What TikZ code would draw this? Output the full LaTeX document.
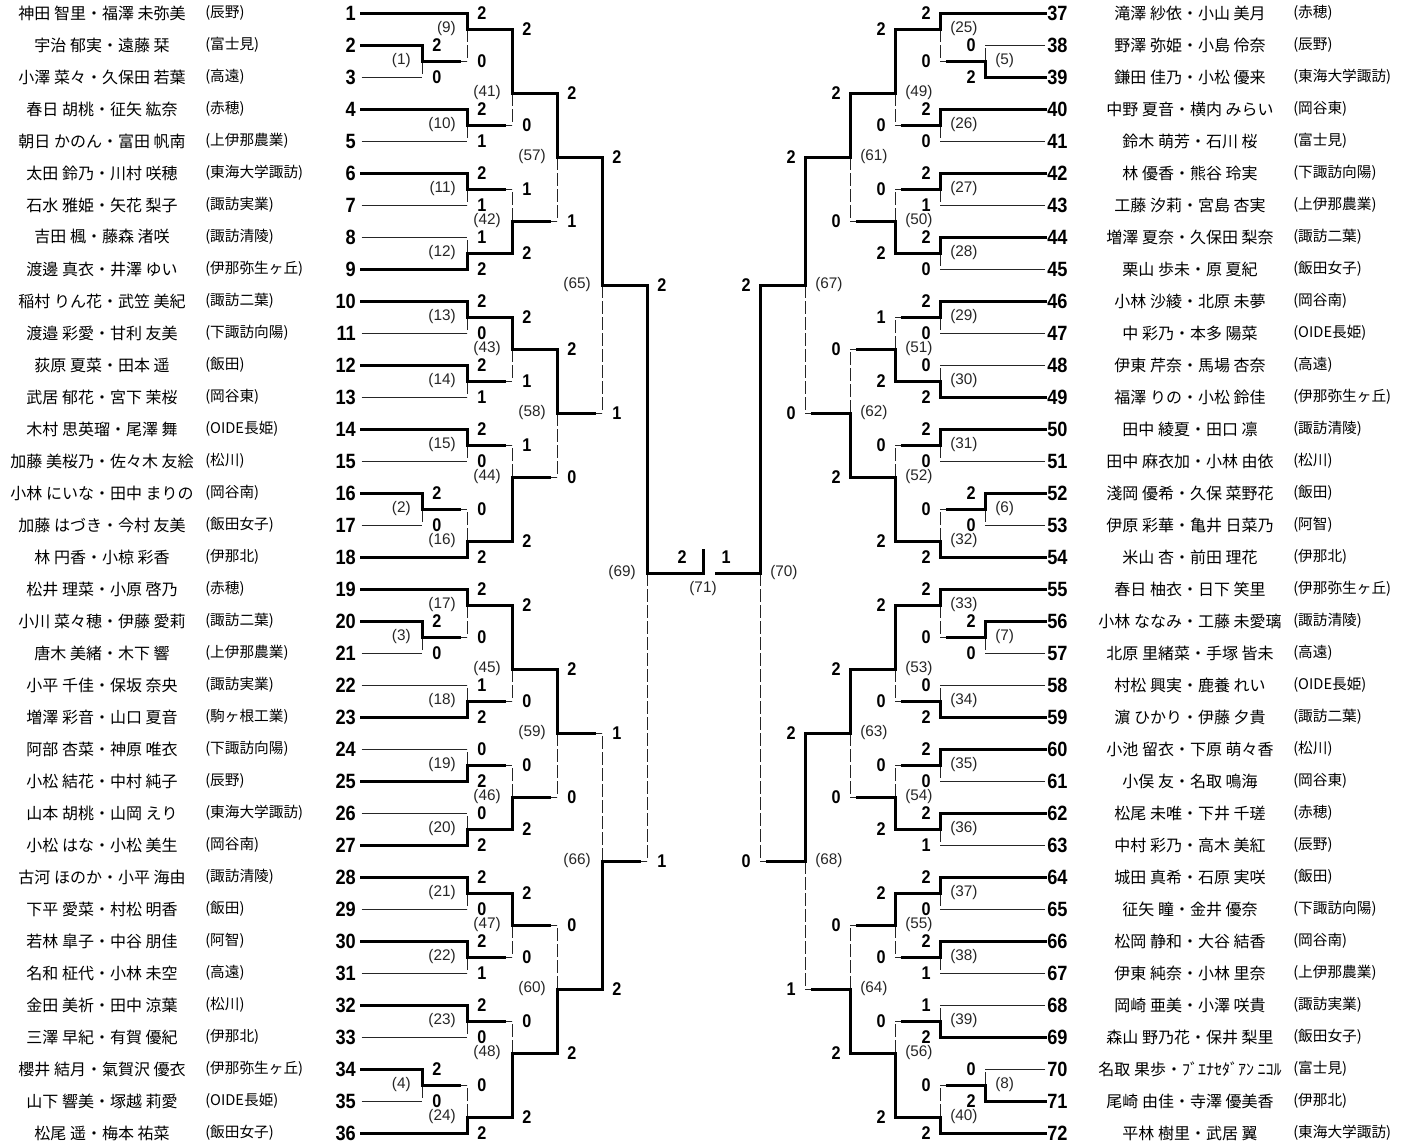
\documentclass[tikz,border=0pt]{standalone}
\usepackage{fontspec}
\newfontfamily\jp{Noto Sans CJK JP}
\newfontfamily\numf[FakeStretch=0.88]{Liberation Sans}
\newfontfamily\lblf{Liberation Sans}
\tikzset{
  thk/.style={line width=2.25pt, line cap=rect, black},
  thn/.style={line width=0.75pt, black!85},
  dsh/.style={line width=0.75pt, black!85, dash pattern=on 9.75pt off 2.25pt},
  nm/.style={font=\jp\fontsize{12}{12}\selectfont, inner sep=0pt},
  sch/.style={font=\jp\fontsize{11}{11}\selectfont, inner sep=0pt, anchor=west},
  pnum/.style={font=\numf\bfseries\fontsize{15.5}{16}\selectfont, inner sep=0pt},
  scr/.style={font=\numf\bfseries\fontsize{13.8}{14}\selectfont, inner sep=0pt},
  lbl/.style={font=\lblf\fontsize{11.5}{12}\selectfont, inner sep=0pt, black!85},
}
\newcommand\loserline[4]{%
  \pgfmathtruncatemacro\isp{abs(#1-703.5)>300}%
  \ifnum\isp=1\relax
    \draw[thn] (#1,#2) -- (#3,#2);
  \else
    \draw[thk,line cap=butt] (#1,#2) -- ({#3-6*#4},#2);
    \draw[thn] ({#3-6*#4},#2) -- (#3,#2);
  \fi}
\newcommand\drawmatch[1]{%
  \pgfmathsetmacro\ya{13+16*\ka}%
  \pgfmathsetmacro\yb{13+16*\kb}%
  \pgfmathsetmacro\yo{13+16*\ko}%
  \ifnum\w=0\relax
    \loserline{\sxb}{\yb}{\cx}{#1}
    \draw[dsh] (\cx,\yo) -- (\cx,\yb);
    \draw[thk] (\sxa,\ya) -- (\cx,\ya) -- (\cx,\yo);
  \else
    \loserline{\sxa}{\ya}{\cx}{#1}
    \draw[dsh] (\cx,\yo) -- (\cx,\ya);
    \draw[thk] (\sxb,\yb) -- (\cx,\yb) -- (\cx,\yo);
  \fi
  \ifnum#1=1\relax
    \node[scr,anchor=west] (sa\lab) at (\cx+10,\ya) {\pa};
    \node[scr,anchor=west] (sb\lab) at (\cx+10,\yb) {\pb};
    \node[lbl,anchor=east] (m\lab) at (\cx-11,\yo) {(\lab)};
  \else
    \node[scr,anchor=east] (sa\lab) at (\cx-9,\ya) {\pa};
    \node[scr,anchor=east] (sb\lab) at (\cx-9,\yb) {\pb};
    \node[lbl,anchor=west] (m\lab) at (\cx+10,\yo) {(\lab)};
  \fi}
\begin{document}
\begin{tikzpicture}[x=0.75pt,y=-0.75pt]
\useasboundingbox (0,0) rectangle (1401,1146);
\fill[white] (0,0) rectangle (1401,1146);

% ---------- left side players ----------
\foreach \i/\n/\s in {
1/神田 智里・福澤 未弥美/辰野,
2/宇治 郁実・遠藤 栞/富士見,
3/小澤 菜々・久保田 若葉/高遠,
4/春日 胡桃・征矢 紘奈/赤穂,
5/朝日 かのん・富田 帆南/上伊那農業,
6/太田 鈴乃・川村 咲穂/東海大学諏訪,
7/石水 雅姫・矢花 梨子/諏訪実業,
8/吉田 楓・藤森 渚咲/諏訪清陵,
9/渡邊 真衣・井澤 ゆい/伊那弥生ヶ丘,
10/稲村 りん花・武笠 美紀/諏訪二葉,
11/渡邉 彩愛・甘利 友美/下諏訪向陽,
12/荻原 夏菜・田本 遥/飯田,
13/武居 郁花・宮下 茉桜/岡谷東,
14/木村 思英瑠・尾澤 舞/OIDE長姫,
15/加藤 美桜乃・佐々木 友絵/松川,
16/小林 にいな・田中 まりの/岡谷南,
17/加藤 はづき・今村 友美/飯田女子,
18/林 円香・小椋 彩香/伊那北,
19/松井 理菜・小原 啓乃/赤穂,
20/小川 菜々穂・伊藤 愛莉/諏訪二葉,
21/唐木 美緒・木下 響/上伊那農業,
22/小平 千佳・保坂 奈央/諏訪実業,
23/増澤 彩音・山口 夏音/駒ヶ根工業,
24/阿部 杏菜・神原 唯衣/下諏訪向陽,
25/小松 結花・中村 純子/辰野,
26/山本 胡桃・山岡 えり/東海大学諏訪,
27/小松 はな・小松 美生/岡谷南,
28/古河 ほのか・小平 海由/諏訪清陵,
29/下平 愛菜・村松 明香/飯田,
30/若林 皐子・中谷 朋佳/阿智,
31/名和 柾代・小林 未空/高遠,
32/金田 美祈・田中 涼葉/松川,
33/三澤 早紀・有賀 優紀/伊那北,
34/櫻井 結月・氣賀沢 優衣/伊那弥生ヶ丘,
35/山下 響美・塚越 莉愛/OIDE長姫,
36/松尾 遥・梅本 祐菜/飯田女子}{
  \node[pnum,anchor=east] (p\i) at (356,{13+32*(\i-1)}) {\i};
  \node[nm] (n\i) at (102,{13+32*(\i-1)}) {\n};
  \node[sch] (s\i) at (205,{13+32*(\i-1)}) {(\s)};
}

% ---------- right side players ----------
\foreach \i/\n/\s in {
37/滝澤 紗依・小山 美月/赤穂,
38/野澤 弥姫・小島 伶奈/辰野,
39/鎌田 佳乃・小松 優来/東海大学諏訪,
40/中野 夏音・横内 みらい/岡谷東,
41/鈴木 萌芳・石川 桜/富士見,
42/林 優香・熊谷 玲実/下諏訪向陽,
43/工藤 汐莉・宮島 杏実/上伊那農業,
44/増澤 夏奈・久保田 梨奈/諏訪二葉,
45/栗山 歩未・原 夏紀/飯田女子,
46/小林 沙綾・北原 未夢/岡谷南,
47/中 彩乃・本多 陽菜/OIDE長姫,
48/伊東 芹奈・馬場 杏奈/高遠,
49/福澤 りの・小松 鈴佳/伊那弥生ヶ丘,
50/田中 綾夏・田口 凛/諏訪清陵,
51/田中 麻衣加・小林 由依/松川,
52/淺岡 優希・久保 菜野花/飯田,
53/伊原 彩華・亀井 日菜乃/阿智,
54/米山 杏・前田 理花/伊那北,
55/春日 柚衣・日下 笑里/伊那弥生ヶ丘,
56/小林 ななみ・工藤 未愛璃/諏訪清陵,
57/北原 里緒菜・手塚 皆未/高遠,
58/村松 興実・鹿養 れい/OIDE長姫,
59/濵 ひかり・伊藤 夕貴/諏訪二葉,
60/小池 留衣・下原 萌々香/松川,
61/小俣 友・名取 鳴海/岡谷東,
62/松尾 未唯・下井 千瑳/赤穂,
63/中村 彩乃・高木 美紅/辰野,
64/城田 真希・石原 実咲/飯田,
65/征矢 瞳・金井 優奈/下諏訪向陽,
66/松岡 静和・大谷 結香/岡谷南,
67/伊東 純奈・小林 里奈/上伊那農業,
68/岡崎 亜美・小澤 咲貴/諏訪実業,
69/森山 野乃花・保井 梨里/飯田女子,
70/名取 果歩・ﾌﾞｴﾅｾﾀﾞｱﾝ ﾆｺﾙ/富士見,
71/尾崎 由佳・寺澤 優美香/伊那北,
72/平林 樹里・武居 翼/東海大学諏訪}{
  \node[pnum,anchor=west] (p\i) at (1047,{13+32*(\i-37)}) {\i};
  \node[nm] (n\i) at (1190,{13+32*(\i-37)}) {\n};
  \node[sch] (s\i) at (1293,{13+32*(\i-37)}) {(\s)};
}

% ---------- left bracket ----------
\foreach \lab/\cx/\sxa/\ka/\sxb/\kb/\ko/\w/\pa/\pb in {
1/422/361.7/2/361.7/4/3/0/2/0,
2/422/361.7/30/361.7/32/31/0/2/0,
3/422/361.7/38/361.7/40/39/0/2/0,
4/422/361.7/66/361.7/68/67/0/2/0,
9/467/361.7/0/422/3/1/0/2/0,
10/467/361.7/6/361.7/8/7/0/2/1,
11/467/361.7/10/361.7/12/11/0/2/1,
12/467/361.7/14/361.7/16/15/1/1/2,
13/467/361.7/18/361.7/20/19/0/2/0,
14/467/361.7/22/361.7/24/23/0/2/1,
15/467/361.7/26/361.7/28/27/0/2/0,
16/467/422/31/361.7/34/33/1/0/2,
17/467/361.7/36/422/39/37/0/2/0,
18/467/361.7/42/361.7/44/43/1/1/2,
19/467/361.7/46/361.7/48/47/1/0/2,
20/467/361.7/50/361.7/52/51/1/0/2,
21/467/361.7/54/361.7/56/55/0/2/0,
22/467/361.7/58/361.7/60/59/0/2/1,
23/467/361.7/62/361.7/64/63/0/2/0,
24/467/422/67/361.7/70/69/1/0/2,
41/512/467/1/467/7/5/0/2/0,
42/512/467/11/467/15/13/1/1/2,
43/512/467/19/467/23/21/0/2/1,
44/512/467/27/467/33/29/1/1/2,
45/512/467/37/467/43/41/0/2/0,
46/512/467/47/467/51/49/1/0/2,
47/512/467/55/467/59/57/0/2/0,
48/512/467/63/467/69/65/1/0/2,
57/557/512/5/512/13/9/0/2/1,
58/557/512/21/512/29/25/0/2/0,
59/557/512/41/512/49/45/0/2/0,
60/557/512/57/512/65/61/1/0/2,
65/602/557/9/557/25/17/0/2/1,
66/602/557/45/557/61/53/1/1/2,
69/647/602/17/602/53/35/0/2/1}{
  \drawmatch{1}
}

% ---------- right bracket ----------
\foreach \lab/\cx/\sxa/\ka/\sxb/\kb/\ko/\w/\pa/\pb in {
5/985/1045/2/1045/4/3/1/0/2,
6/985/1045/30/1045/32/31/0/2/0,
7/985/1045/38/1045/40/39/0/2/0,
8/985/1045/66/1045/68/67/1/0/2,
25/940/1045/0/985/3/1/0/2/0,
26/940/1045/6/1045/8/7/0/2/0,
27/940/1045/10/1045/12/11/0/2/1,
28/940/1045/14/1045/16/15/0/2/0,
29/940/1045/18/1045/20/19/0/2/0,
30/940/1045/22/1045/24/23/1/0/2,
31/940/1045/26/1045/28/27/0/2/0,
32/940/985/31/1045/34/33/1/0/2,
33/940/1045/36/985/39/37/0/2/0,
34/940/1045/42/1045/44/43/1/0/2,
35/940/1045/46/1045/48/47/0/2/0,
36/940/1045/50/1045/52/51/0/2/1,
37/940/1045/54/1045/56/55/0/2/0,
38/940/1045/58/1045/60/59/0/2/1,
39/940/1045/62/1045/64/63/1/1/2,
40/940/985/67/1045/70/69/1/0/2,
49/895/940/1/940/7/5/0/2/0,
50/895/940/11/940/15/13/1/0/2,
51/895/940/19/940/23/21/1/1/2,
52/895/940/27/940/33/29/1/0/2,
53/895/940/37/940/43/41/0/2/0,
54/895/940/47/940/51/49/1/0/2,
55/895/940/55/940/59/57/0/2/0,
56/895/940/63/940/69/65/1/0/2,
61/850/895/5/895/13/9/0/2/0,
62/850/895/21/895/29/25/1/0/2,
63/850/895/41/895/49/45/0/2/0,
64/850/895/57/895/65/61/1/0/2,
67/805/850/9/850/25/17/0/2/0,
68/805/850/45/850/61/53/0/2/1,
70/760/805/17/805/53/35/0/2/0}{
  \drawmatch{-1}
}

% ---------- final ----------
\coordinate (fL) at (647,573);
\coordinate (fM) at (703,573);
\coordinate (fT) at (703,550);
\coordinate (fR) at (760,573);
\coordinate (fR2) at (716,573);
\draw[thk] (fL) -- (fM) -- (fT);
\draw[thk] (fR) -- (fR2);
\node[scr] (fs1) at (682,557) {2};
\node[scr] (fs2) at (726,557) {1};
\node[lbl] (m71) at (703,589) {(71)};
\end{tikzpicture}
\end{document}
